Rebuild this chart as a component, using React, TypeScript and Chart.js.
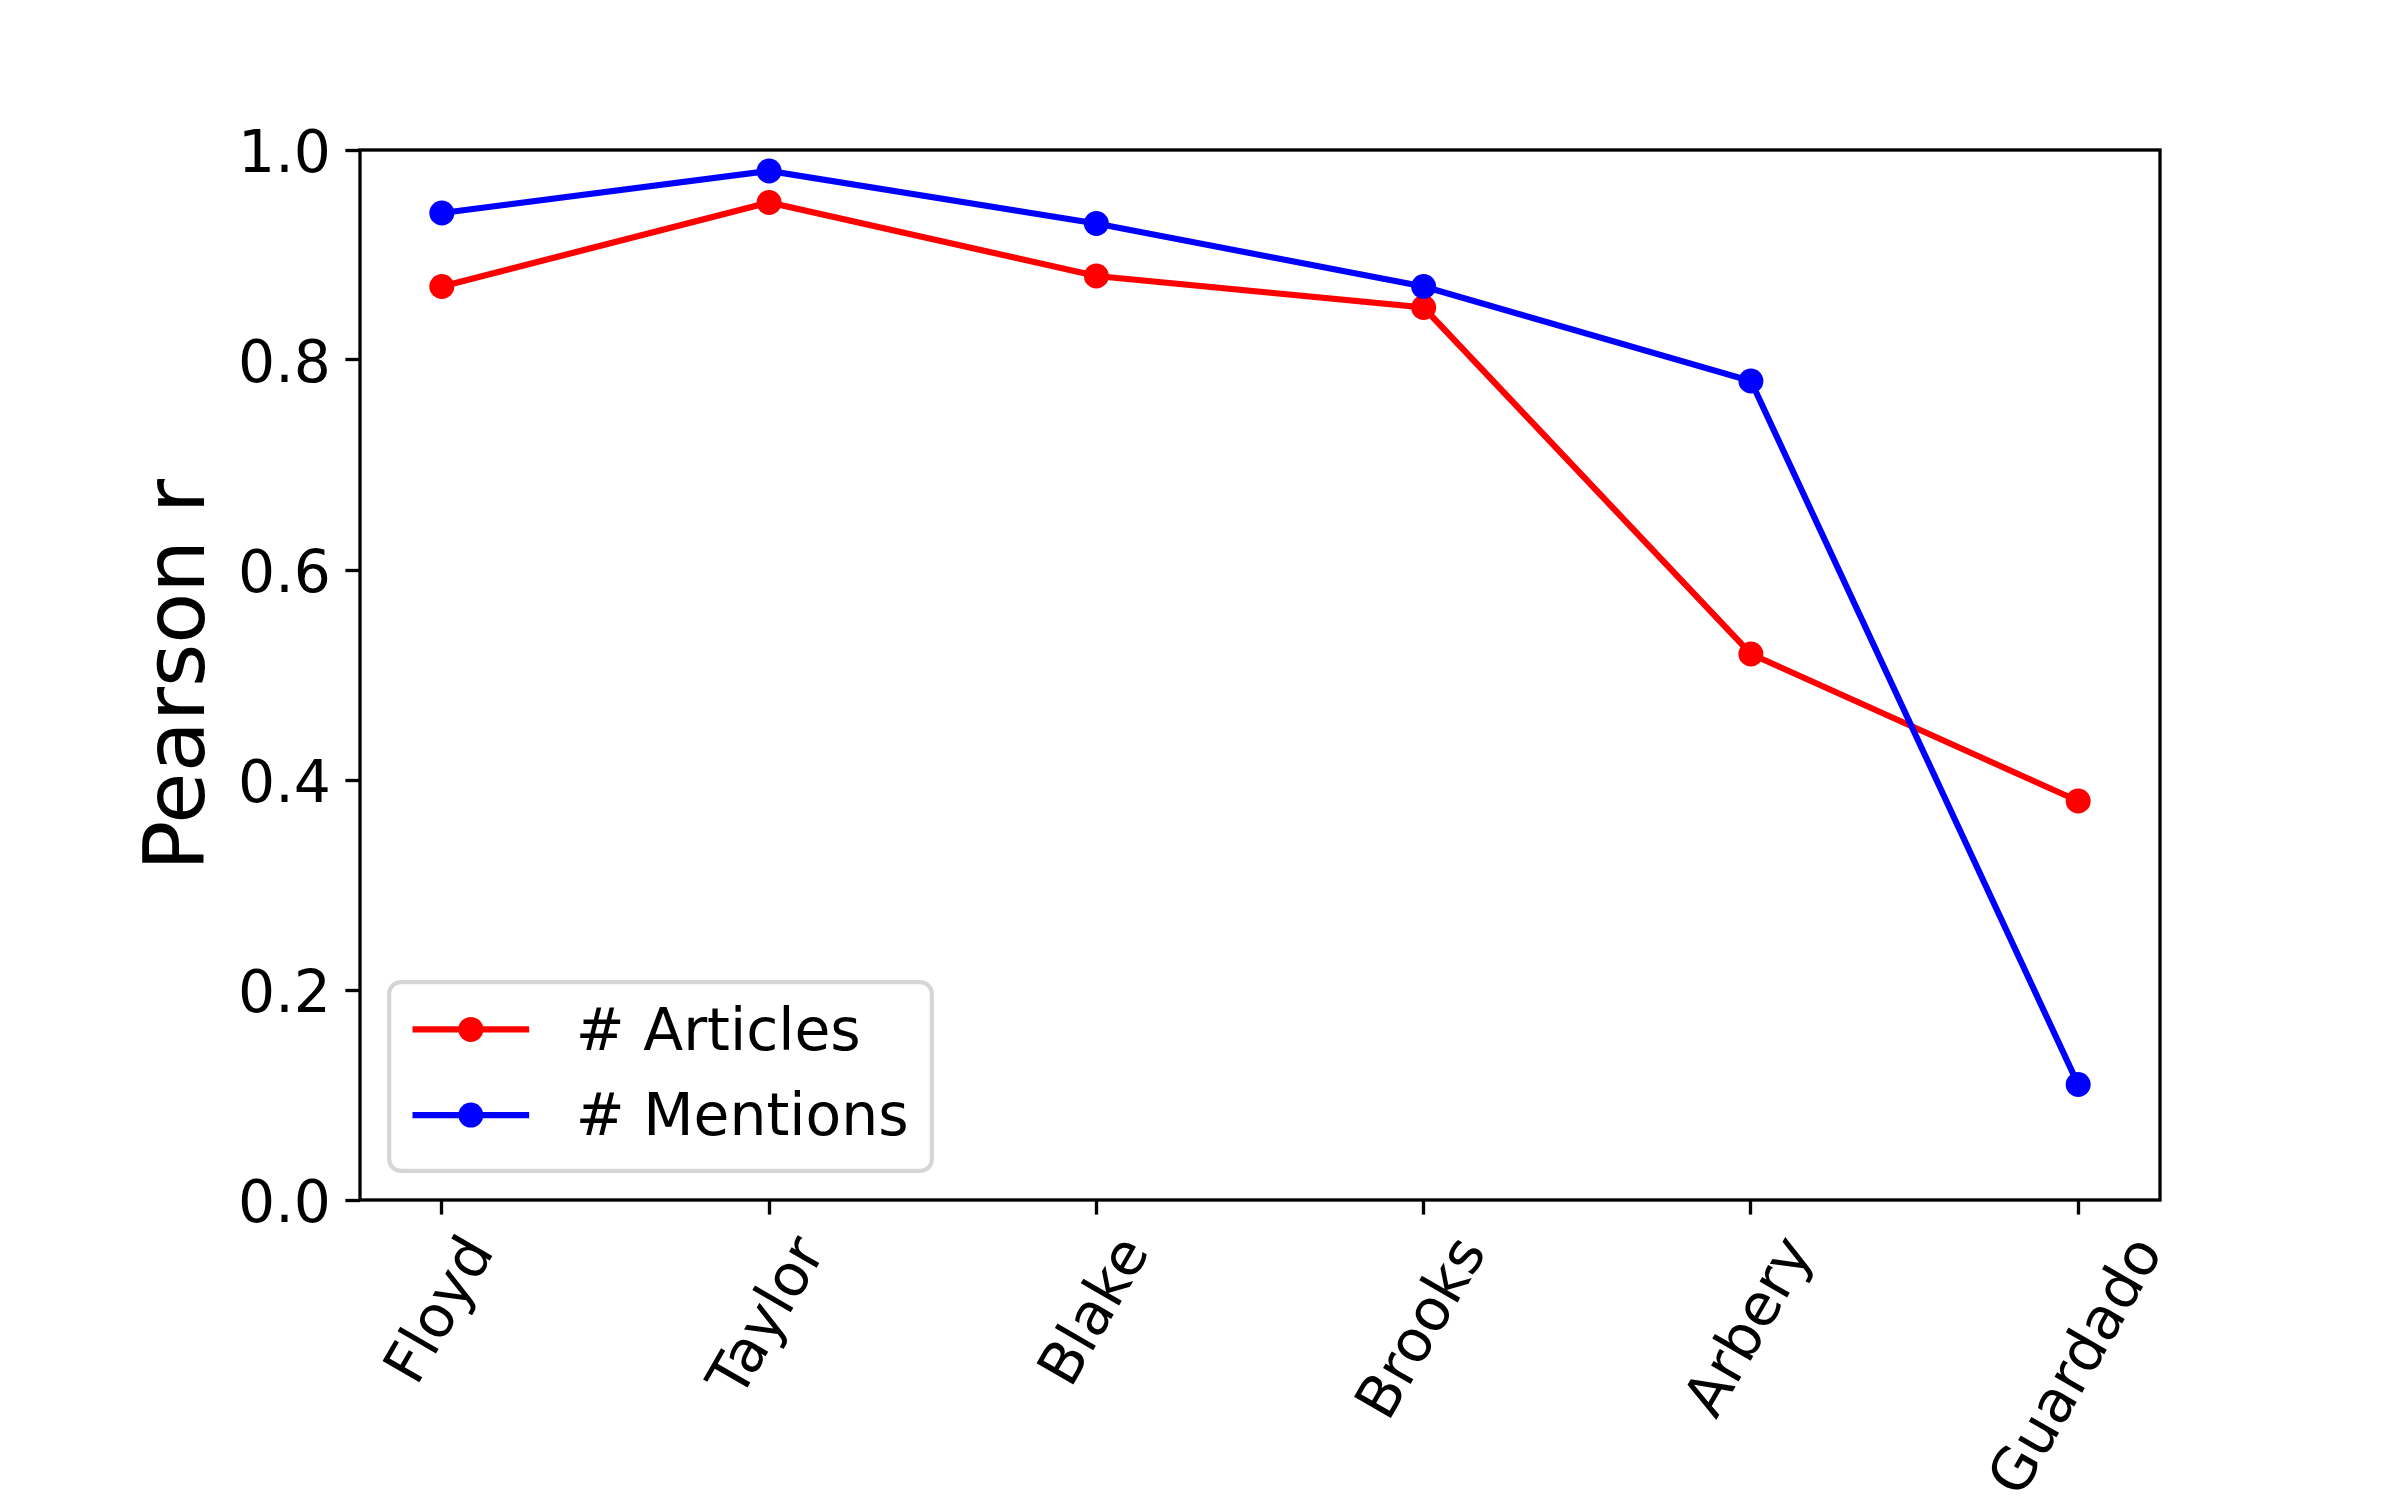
import React, { useEffect, useRef } from 'react';
import { Chart, registerables } from 'chart.js';

Chart.register(...registerables);

// ---------- data ----------
const categories = ['Floyd', 'Taylor', 'Blake', 'Brooks', 'Arbery', 'Guardado'];
const articles = [0.87, 0.95, 0.88, 0.85, 0.52, 0.38];
const mentions = [0.94, 0.98, 0.93, 0.87, 0.78, 0.11];
const yTickValues = [0, 0.2, 0.4, 0.6, 0.8, 1.0];
const yTickLabels = ['0.0', '0.2', '0.4', '0.6', '0.8', '1.0'];
const seriesLabels = ['# Articles', '# Mentions'];
const seriesColors = ['#ff0000', '#0000ff'];
const yAxisTitle = 'Pearson r';

// ---------- styling (matplotlib @ 300 dpi) ----------
const FONT = '"DejaVu Sans", "Noto Sans", sans-serif';
const FS = 58.33; // 14pt
const LABEL_FS = 83.33; // 20pt
const TICK_LEN = 14.6;
const TICK_PAD = 14.6;
const SPINE_W = 3.33;
const LINE_W = 6.25;
const MARKER_R = 12.5;

const W = 2400;
const H = 1500;

const mplPlugin = {
  id: 'mplDecor',
  afterDatasetsDraw(chart: any) {
    const { ctx, chartArea: a, scales } = chart;
    const xs = scales.x;
    const ys = scales.y;
    ctx.save();

    // frame (spines)
    ctx.strokeStyle = '#000000';
    ctx.lineWidth = SPINE_W;
    ctx.lineJoin = 'miter';
    ctx.lineCap = 'square';
    ctx.strokeRect(a.left, a.top, a.right - a.left, a.bottom - a.top);

    // y tick labels
    ctx.fillStyle = '#000000';
    ctx.font = `${FS}px ${FONT}`;
    ctx.textAlign = 'right';
    ctx.textBaseline = 'alphabetic';
    let maxW = 0;
    yTickValues.forEach((v, i) => {
      const py = ys.getPixelForValue(v);
      ctx.fillText(yTickLabels[i], a.left - TICK_LEN - TICK_PAD, py + 0.38 * FS);
      maxW = Math.max(maxW, ctx.measureText(yTickLabels[i]).width);
    });

    // x tick labels rotated 60deg, centered (matplotlib style)
    const th = Math.PI / 3;
    const boxH = 0.968 * FS;
    categories.forEach((c, i) => {
      const px = xs.getPixelForValue(i);
      const w = ctx.measureText(c).width;
      const rotH = w * Math.sin(th) + boxH * Math.cos(th);
      const top = a.bottom + TICK_LEN + TICK_PAD;
      ctx.save();
      ctx.translate(px, top + rotH / 2);
      ctx.rotate(-th);
      ctx.textAlign = 'center';
      ctx.fillText(c, 0, (0.76 - 0.484) * FS);
      ctx.restore();
    });

    // y axis title
    ctx.save();
    ctx.font = `${LABEL_FS}px ${FONT}`;
    const titleX = a.left - TICK_LEN - TICK_PAD - maxW - 16.67 - 0.208 * LABEL_FS;
    ctx.translate(titleX, (a.top + a.bottom) / 2);
    ctx.rotate(-Math.PI / 2);
    ctx.textAlign = 'center';
    ctx.fillText(yAxisTitle, 0, 0);
    ctx.restore();

    // legend (lower left)
    ctx.font = `${FS}px ${FONT}`;
    const ds = chart.data.datasets;
    const pad = 0.4 * FS;
    const handleLen = 2.0 * FS;
    const handleTextPad = 0.8 * FS;
    let textW = 0;
    ds.forEach((d: any) => {
      textW = Math.max(textW, ctx.measureText(d.label).width);
    });
    const rowStep = 1.469 * FS;
    const boxW = pad * 2 + handleLen + handleTextPad + textW;
    const boxHt = pad * 2 + ds.length * 0.968 * FS + (ds.length - 1) * 0.5 * FS;
    const bx = a.left + 0.5 * FS;
    const by = a.bottom - 0.5 * FS - boxHt;
    ctx.beginPath();
    ctx.roundRect(bx, by, boxW, boxHt, 0.2 * FS);
    ctx.fillStyle = 'rgba(255,255,255,0.8)';
    ctx.fill();
    ctx.strokeStyle = 'rgba(204,204,204,0.8)';
    ctx.lineWidth = 4.17;
    ctx.stroke();

    ds.forEach((d: any, i: number) => {
      const cy = by + 0.811 * FS + i * rowStep;
      const hx0 = bx + pad;
      const hx1 = hx0 + handleLen;
      ctx.strokeStyle = d.borderColor;
      ctx.lineWidth = LINE_W;
      ctx.lineCap = 'butt';
      ctx.beginPath();
      ctx.moveTo(hx0, cy);
      ctx.lineTo(hx1, cy);
      ctx.stroke();
      ctx.fillStyle = d.pointBackgroundColor;
      ctx.beginPath();
      ctx.arc((hx0 + hx1) / 2, cy, MARKER_R, 0, Math.PI * 2);
      ctx.fill();
      ctx.fillStyle = '#000000';
      ctx.textAlign = 'left';
      ctx.textBaseline = 'alphabetic';
      ctx.fillText(d.label, hx1 + handleTextPad, cy + 0.348 * FS);
    });

    ctx.restore();
  },
};

export default function App() {
  const canvasRef = useRef<HTMLCanvasElement | null>(null);

  useEffect(() => {
    document.body.style.margin = '0';
    const canvas = canvasRef.current;
    if (!canvas) return;

    const makeDataset = (label: string, values: number[], color: string, order: number) => ({
      label,
      data: values.map((v, i) => ({ x: i, y: v })),
      borderColor: color,
      backgroundColor: color,
      pointBackgroundColor: color,
      pointBorderColor: color,
      pointBorderWidth: 0,
      pointRadius: MARKER_R,
      pointHoverRadius: MARKER_R,
      borderWidth: LINE_W,
      tension: 0,
      fill: false,
      order,
    });

    const chart = new Chart(canvas, {
      type: 'line',
      data: {
        datasets: [
          makeDataset(seriesLabels[0], articles, seriesColors[0], 1),
          makeDataset(seriesLabels[1], mentions, seriesColors[1], 0),
        ],
      },
      options: {
        animation: false,
        responsive: false,
        devicePixelRatio: 1,
        events: [],
        layout: {
          autoPadding: false,
          padding: { left: 360 - 15, right: W - 2160, top: 150, bottom: H - 1200 - 15 },
        },
        plugins: {
          legend: { display: false },
          tooltip: { enabled: false },
          title: { display: false },
        },
        scales: {
          x: {
            type: 'linear',
            min: -0.25,
            max: 5.25,
            afterBuildTicks: (scale: any) => {
              scale.ticks = categories.map((_, i) => ({ value: i }));
            },
            afterFit: (scale: any) => {
              scale.height = 15;
            },
            ticks: { display: false },
            border: { display: false },
            grid: {
              display: true,
              drawOnChartArea: false,
              drawTicks: true,
              tickLength: TICK_LEN,
              tickWidth: SPINE_W,
              tickColor: '#000000',
            },
          },
          y: {
            type: 'linear',
            min: 0,
            max: 1,
            afterBuildTicks: (scale: any) => {
              scale.ticks = yTickValues.map((v) => ({ value: v }));
            },
            afterFit: (scale: any) => {
              scale.width = 15;
            },
            ticks: { display: false },
            border: { display: false },
            grid: {
              display: true,
              drawOnChartArea: false,
              drawTicks: true,
              tickLength: TICK_LEN,
              tickWidth: SPINE_W,
              tickColor: '#000000',
            },
          },
        },
      },
      plugins: [mplPlugin],
    } as any);

    return () => {
      chart.destroy();
    };
  }, []);

  return (
    <div style={{ width: W, height: H, background: '#ffffff' }}>
      <canvas
        ref={canvasRef}
        width={W}
        height={H}
        style={{ width: W, height: H, display: 'block' }}
      />
    </div>
  );
}
